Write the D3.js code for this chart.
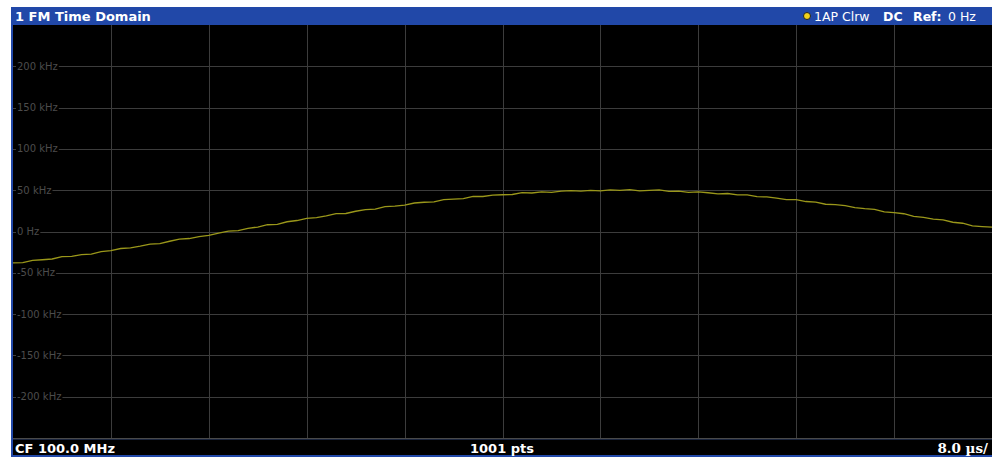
<!DOCTYPE html>
<html>
<head>
<meta charset="utf-8">
<title>FM Time Domain</title>
<script src="https://d3js.org/d3.v7.min.js"></script>
<style>
body { margin: 0; background: #fff; }
svg text { font-family: 'DejaVu Sans', Verdana, sans-serif; }
</style>
</head>
<body>
<script>
// Globals
var W = 992, H = 459;
var pLeft = 13, pRight = 992, pTop = 25, pBottom = 438;

// trace values (kHz), one every 0.8 us from 0 to 80 us
var traceKHz = [
 -38.0,-37.7,-34.9,-34.2,-33.3,-30.4,-30.0,-27.9,-27.3,-24.3,
 -23.1,-20.6,-19.9,-17.8,-15.2,-14.6,-11.8, -9.2, -8.5, -6.1,
  -4.8, -2.0,  0.5,  1.0,  3.8,  5.4,  8.2,  8.6, 11.8, 13.3,
  15.8, 16.7, 18.8, 21.6, 21.8, 24.5, 26.4, 27.1, 30.0, 30.6,
  32.0, 34.5, 35.4, 35.8, 38.5, 39.3, 39.9, 42.4, 42.4, 44.0,
  44.5, 44.8, 47.0, 46.6, 48.0, 47.4, 48.9, 49.6, 49.0, 49.8,
  49.3, 50.4, 49.8, 50.7, 49.2, 49.8, 50.3, 48.6, 48.8, 47.3,
  48.0, 46.9, 45.5, 46.0, 44.3, 44.4, 42.1, 41.8, 40.5, 38.6,
  38.6, 36.3, 35.6, 33.0, 32.5, 31.4, 28.8, 27.6, 26.8, 23.7,
  22.8, 21.5, 18.3, 17.2, 14.9, 14.0, 11.2, 10.0,  6.8,  6.0,
   5.2
];
var timeStepUs = 0.8;
var yTicks = [200, 150, 100, 50, 0, -50, -100, -150, -200];
var xDivs = [8, 16, 24, 32, 40, 48, 56, 64, 72];

function fmtHz(v) {
  if (v == 0) return "0 Hz";
  return v + " kHz";
}

var svg = d3.select("body").append("svg").attr("width", W).attr("height", H);

var x = d3.scaleLinear().domain([0, 80]).range([pLeft, pRight]);
var y = d3.scaleLinear().domain([-250, 250]).range([pBottom, pTop]);

// frame: blue, then black plot
svg.append("rect").attr("x", 11).attr("y", 7).attr("width", W - 11).attr("height", 450).attr("fill", "#2148a8");
svg.append("rect").attr("x", pLeft).attr("y", pTop).attr("width", pRight - pLeft).attr("height", pBottom - pTop).attr("fill", "#000");
// bottom bar
svg.append("rect").attr("x", pLeft).attr("y", pBottom).attr("width", pRight - pLeft).attr("height", 1.5).attr("fill", "#4a4a4a");
svg.append("rect").attr("x", pLeft).attr("y", pBottom + 1.5).attr("width", pRight - pLeft).attr("height", 15.5).attr("fill", "#000");

// grid
svg.append("g").selectAll("line").data(xDivs).enter().append("line")
  .attr("x1", function(d){ return Math.round(x(d)) + 0.5; })
  .attr("x2", function(d){ return Math.round(x(d)) + 0.5; })
  .attr("y1", pTop).attr("y2", pBottom)
  .attr("stroke", "#3c3c3c").attr("stroke-width", 1);

svg.append("g").selectAll("line").data(yTicks).enter().append("line")
  .attr("x1", pLeft).attr("x2", pRight)
  .attr("y1", function(d){ return Math.round(y(d)) + 0.5; })
  .attr("y2", function(d){ return Math.round(y(d)) + 0.5; })
  .attr("stroke", "#3c3c3c").attr("stroke-width", 1);

// y labels with black background
var lab = svg.append("g").selectAll("g").data(yTicks).enter().append("g");
lab.append("text")
  .attr("x", 17).attr("y", function(d){ return y(d) + 3.5; })
  .attr("font-size", "10px").attr("fill", "#4c4c4c")
  .text(fmtHz)
  .each(function(){
    var b = this.getBBox();
    d3.select(this.parentNode).insert("rect", "text")
      .attr("x", b.x - 1).attr("y", b.y + 1).attr("width", b.width + 2).attr("height", b.height - 2)
      .attr("fill", "#000");
  });

// trace
var line = d3.line()
  .x(function(d, i){ return x(i * timeStepUs); })
  .y(function(d){ return y(d); });
svg.append("path").datum(traceKHz)
  .attr("d", line)
  .attr("fill", "none")
  .attr("stroke", "#9a971a")
  .attr("stroke-width", 1.3);

// header texts
svg.append("text").attr("x", 15).attr("y", 20.5).attr("font-size", "13px").attr("font-weight", "bold")
  .attr("fill", "#fff").text("1 FM Time Domain");

svg.append("circle").attr("cx", 807).attr("cy", 16).attr("r", 3.5)
  .attr("fill", "#f2d21a").attr("stroke", "#222").attr("stroke-width", 1);

var hdr = svg.append("text").attr("y", 20.5).attr("font-size", "12.5px").attr("fill", "#fff");
hdr.append("tspan").attr("x", 814).text("1AP Clrw");
hdr.append("tspan").attr("x", 883).attr("font-weight", "bold").text("DC");
hdr.append("tspan").attr("x", 913).attr("font-weight", "bold").text("Ref:");
hdr.append("tspan").attr("x", 948).text("0 Hz");

// footer texts
svg.append("text").attr("x", 15).attr("y", 453).attr("font-size", "13px").attr("font-weight", "bold")
  .attr("fill", "#fff").text("CF 100.0 MHz");
svg.append("text").attr("x", 502).attr("y", 453).attr("text-anchor", "middle").attr("font-size", "13px")
  .attr("font-weight", "bold").attr("fill", "#fff").text("1001 pts");
svg.append("text").attr("x", 988).attr("y", 453).attr("text-anchor", "end").attr("font-size", "13.5px")
  .attr("font-weight", "bold").attr("fill", "#fff").style("font-family", "'DejaVu Serif', serif").text("8.0 µs/");
</script>
</body>
</html>
